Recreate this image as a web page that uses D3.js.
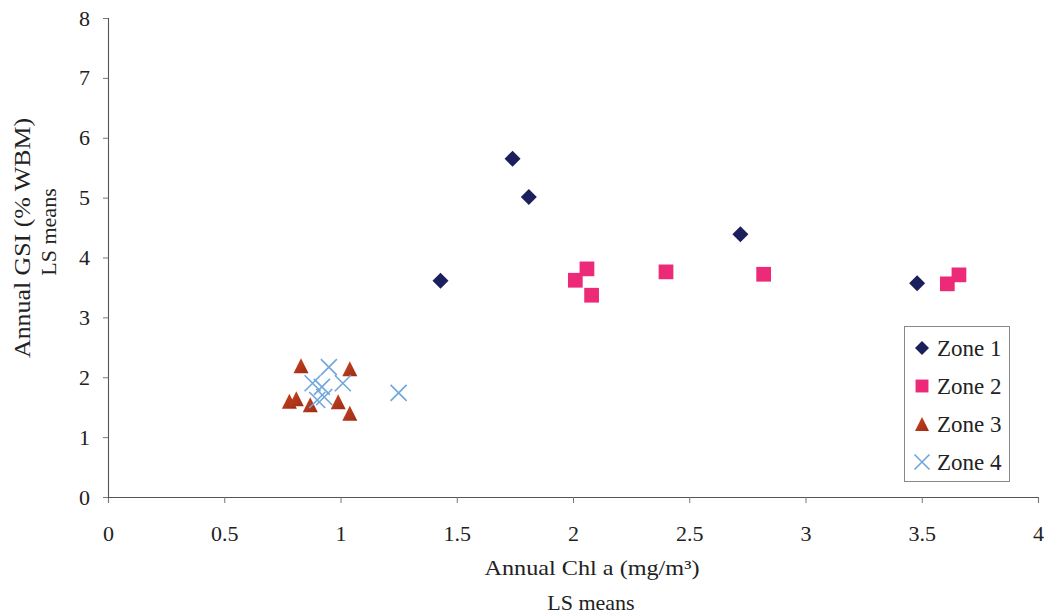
<!DOCTYPE html>
<html>
<head>
<meta charset="utf-8">
<script src="https://cdn.jsdelivr.net/npm/d3@7"></script>
<style>
  html, body { margin: 0; padding: 0; background: #fff; }
  svg { display: block; }
  text { font-family: "Liberation Serif", "DejaVu Serif", serif; fill: #222; }
</style>
</head>
<body>
<svg id="chart" width="1050" height="615"></svg>
<script>
// Annual Chl a (x) vs annual GSI (y), LS means per site, grouped by zone
const zone1X = [1.43, 1.74, 1.81, 2.72, 3.48];
const zone1Y = [3.61, 5.65, 5.01, 4.39, 3.57];

const zone2X = [2.01, 2.06, 2.08, 2.40, 2.82, 3.61, 3.66];
const zone2Y = [3.62, 3.81, 3.37, 3.76, 3.72, 3.56, 3.71];

const zone3X = [0.83, 1.04, 0.78, 0.81, 0.87, 0.99, 1.04];
const zone3Y = [2.19, 2.14, 1.60, 1.64, 1.54, 1.59, 1.40];

const zone4X = [0.95, 0.88, 0.92, 1.01, 0.93, 0.90, 1.25];
const zone4Y = [2.17, 1.90, 1.84, 1.90, 1.67, 1.62, 1.74];

const xTicks = [0, 0.5, 1, 1.5, 2, 2.5, 3, 3.5, 4];
const yTicks = [0, 1, 2, 3, 4, 5, 6, 7, 8];
const zoneNames = ["Zone 1", "Zone 2", "Zone 3", "Zone 4"];

const svg = d3.select("#chart");

const x = d3.scaleLinear().domain([0, 4]).range([108, 1038]);
const y = d3.scaleLinear().domain([0, 8]).range([497, 18]);

// axes
const xAxis = svg.append("g")
  .attr("transform", `translate(0,${y(0)})`)
  .call(d3.axisBottom(x).tickValues(xTicks).tickSize(6).tickPadding(22)
    .tickFormat(d3.format("")));
const yAxis = svg.append("g")
  .attr("transform", `translate(${x(0)},0)`)
  .call(d3.axisLeft(y).tickValues(yTicks).tickSize(5).tickPadding(13));

[xAxis, yAxis].forEach(g => {
  g.select(".domain").attr("stroke", "#555").attr("stroke-width", 1.1);
  g.selectAll(".tick line").attr("stroke", "#777");
  g.selectAll(".tick text")
    .style("font-family", "'Liberation Serif', serif")
    .style("font-size", "22px")
    .attr("fill", "#222");
});

// axis titles
svg.append("text")
  .attr("x", 592).attr("y", 575)
  .attr("text-anchor", "middle")
  .attr("textLength", 215).attr("lengthAdjust", "spacingAndGlyphs")
  .style("font-size", "21px")
  .text("Annual Chl a  (mg/m³)");
svg.append("text")
  .attr("x", 591).attr("y", 610)
  .attr("text-anchor", "middle")
  .style("font-size", "22px")
  .text("LS means");

svg.append("text")
  .attr("transform", "translate(30,238) rotate(-90)")
  .attr("text-anchor", "middle")
  .attr("textLength", 240).attr("lengthAdjust", "spacingAndGlyphs")
  .style("font-size", "24px")
  .text("Annual GSI (% WBM)");
svg.append("text")
  .attr("transform", "translate(56,232) rotate(-90)")
  .attr("text-anchor", "middle")
  .style("font-size", "22px")
  .text("LS means");

// marker drawers
const colors = ["#1b1f5c", "#ec2a78", "#b3361c", "#6fa6dc"];

function drawMarker(g, zone, cx, cy, s) {
  if (zone === 0) {
    const r = s * 0.5;
    g.append("path")
      .attr("d", `M${cx},${cy - r}L${cx + r},${cy}L${cx},${cy + r}L${cx - r},${cy}Z`)
      .attr("fill", colors[0]);
  } else if (zone === 1) {
    const h = s * 0.46;
    g.append("rect")
      .attr("x", cx - h).attr("y", cy - h)
      .attr("width", 2 * h).attr("height", 2 * h)
      .attr("fill", colors[1]);
  } else if (zone === 2) {
    const h = s * 0.5;
    g.append("path")
      .attr("d", `M${cx},${cy - h}L${cx + h},${cy + h}L${cx - h},${cy + h}Z`)
      .attr("fill", "url(#triGrad)");
  } else {
    const h = s * 0.5;
    g.append("path")
      .attr("d", `M${cx - h},${cy - h}L${cx + h},${cy + h}M${cx - h},${cy + h}L${cx + h},${cy - h}`)
      .attr("stroke", colors[3]).attr("stroke-width", 1.6).attr("fill", "none");
  }
}

const defs = svg.append("defs");
const grad = defs.append("linearGradient").attr("id", "triGrad")
  .attr("x1", 0).attr("y1", 0).attr("x2", 1).attr("y2", 1);
grad.append("stop").attr("offset", "0%").attr("stop-color", "#c9461f");
grad.append("stop").attr("offset", "100%").attr("stop-color", "#9e2a16");

const series = [
  [zone1X, zone1Y, 16],
  [zone2X, zone2Y, 16],
  [zone3X, zone3Y, 15],
  [zone4X, zone4Y, 16]
];

const pts = svg.append("g");
series.forEach(([xs, ys, size], zi) => {
  xs.forEach((v, i) => drawMarker(pts, zi, x(v), y(ys[i]), size));
});

// legend
const lg = svg.append("g");
lg.append("rect")
  .attr("x", 904.5).attr("y", 326.5).attr("width", 105).attr("height", 155)
  .attr("fill", "#fff").attr("stroke", "#888").attr("stroke-width", 1);
zoneNames.forEach((name, i) => {
  const cy = 348 + i * 38;
  drawMarker(lg, i, 922, cy, i === 3 ? 15 : 14);
  lg.append("text")
    .attr("x", 937).attr("y", cy + 8)
    .style("font-size", "23px")
    .text(name);
});
</script>
</body>
</html>
